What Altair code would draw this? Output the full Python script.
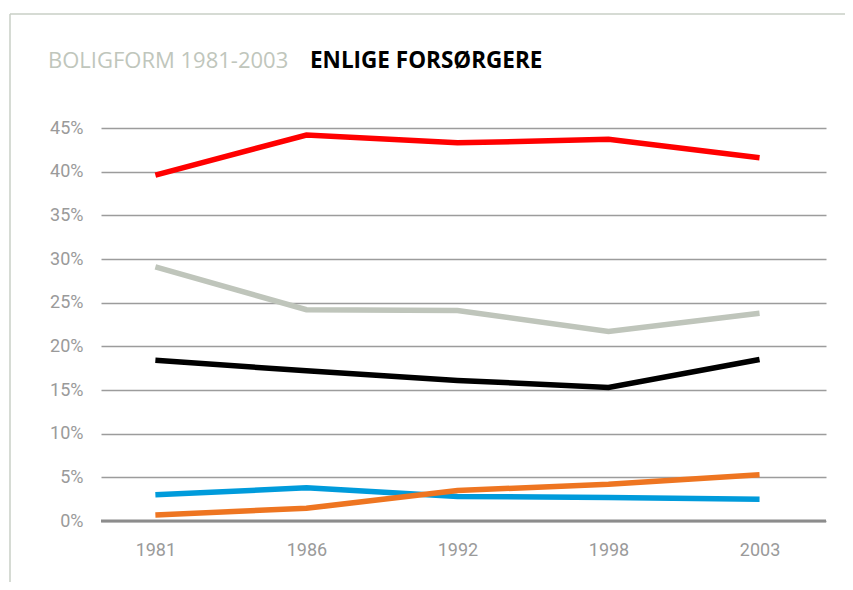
import altair as alt
import pandas as pd

years = ["1981", "1986", "1992", "1998", "2003"]
series_names = ["Serie A", "Serie B", "Serie C", "Serie D", "Serie E"]
red_vals = [39.6, 44.2, 43.3, 43.7, 41.6]
grey_vals = [29.1, 24.2, 24.1, 21.7, 23.8]
black_vals = [18.4, 17.2, 16.1, 15.3, 18.5]
blue_vals = [3.0, 3.8, 2.8, 2.7, 2.5]
orange_vals = [0.7, 1.45, 3.5, 4.2, 5.3]
colors = ["#ff0000", "#bfc5bb", "#000000", "#009bdb", "#ee7521"]
y_ticks = [0, 5, 10, 15, 20, 25, 30, 35, 40, 45]
title_left = "BOLIGFORM 1981-2003"
title_right = "ENLIGE FORSØRGERE"

rows = []
for name, vals in zip(series_names, [red_vals, grey_vals, black_vals, blue_vals, orange_vals]):
    for i, (yr, v) in enumerate(zip(years, vals)):
        rows.append({"year": yr, "value": v / 100, "series": name})
df = pd.DataFrame(rows)

font = "Roboto"

base = alt.Chart(df)

lines = base.mark_line(strokeWidth=5.5, strokeCap="butt", strokeJoin="miter").encode(
    x=alt.X("year:O", sort=years,
            scale=alt.Scale(type="point", padding=0.4, align=0.45),
            axis=alt.Axis(title=None, labelAngle=0, domain=False, ticks=False,
                          labelPadding=20, labelFontSize=18, labelColor="#9a9a9a",
                          labelFont=font, grid=False)),
    y=alt.Y("value:Q",
            scale=alt.Scale(domain=[0, 0.45], nice=False),
            axis=alt.Axis(title=None, values=[t / 100 for t in y_ticks], format=".0%",
                          domain=False, ticks=False, labelPadding=18, labelFontSize=18,
                          labelColor="#9a9a9a", labelFont=font, grid=True,
                          gridColor="#9c9c9c", gridWidth=1.5)),
    color=alt.Color("series:N", scale=alt.Scale(domain=series_names, range=colors), legend=None),
    order=alt.Order("series:N"),
)

zero_df = pd.DataFrame({"v": [0]})
zero_line = alt.Chart(zero_df).mark_rule(color="#8c8c8c", strokeWidth=3).encode(
    y=alt.Y("v:Q", scale=alt.Scale(domain=[0, 0.45])),
)

frame_df = pd.DataFrame({"k": [0]})
frame_top = alt.Chart(frame_df).mark_rule(color="#c9cfc6", strokeWidth=1.5).encode(
    x=alt.value(-91), x2=alt.value(760), y=alt.value(-114)
)
frame_left = alt.Chart(frame_df).mark_rule(color="#c9cfc6", strokeWidth=1.5).encode(
    x=alt.value(-91), y=alt.value(-114), y2=alt.value(470)
)

t1 = alt.Chart(pd.DataFrame({"t": [title_left]})).mark_text(
    align="left", baseline="alphabetic", font="Open Sans", fontSize=22, color="#c0c6bc"
).encode(text="t:N", x=alt.value(-53), y=alt.value(-60))
t2 = alt.Chart(pd.DataFrame({"t": [title_right]})).mark_text(
    align="left", baseline="alphabetic", font="Open Sans", fontSize=22.5, fontWeight="bold",
    color="#000000"
).encode(text="t:N", x=alt.value(209), y=alt.value(-60))

chart = alt.layer(frame_top, frame_left, t1, t2, lines, zero_line).properties(
    width=725, height=393,
    autosize=alt.AutoSizeParams(type="none"),
    padding={"left": 93, "top": 120, "right": 19, "bottom": 61},
).configure_view(stroke=None)

chart.save("out.html", embed_options={"renderer": "svg", "actions": False})
